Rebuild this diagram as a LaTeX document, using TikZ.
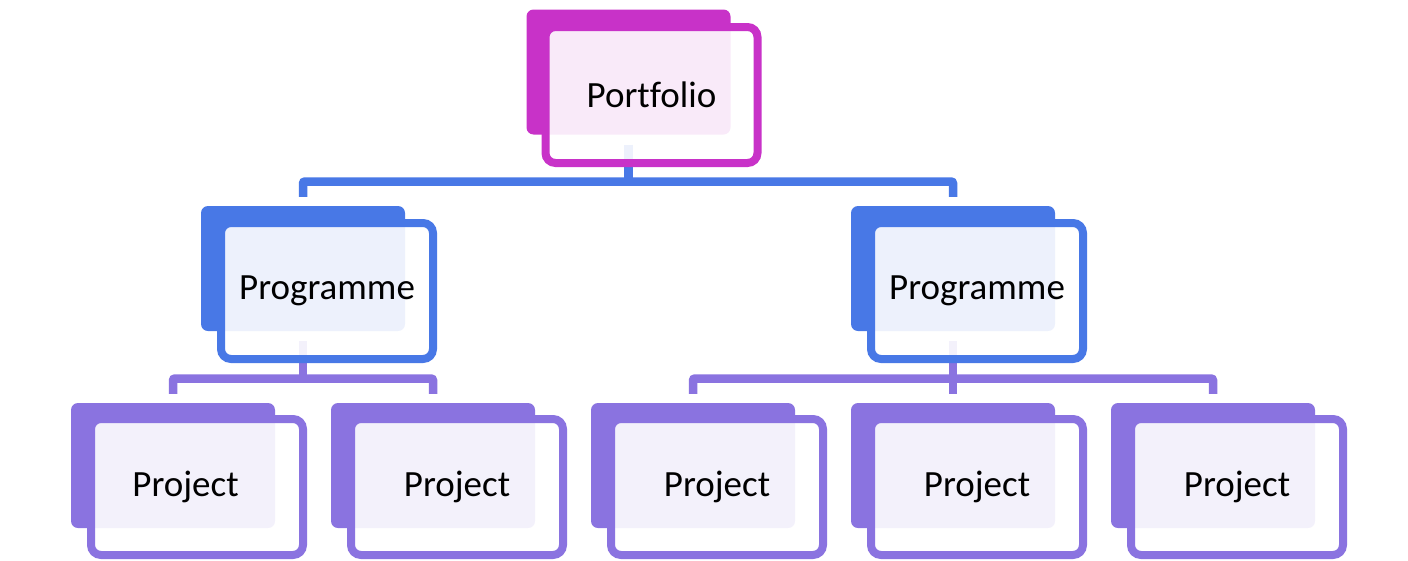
\documentclass[tikz,border=0pt]{standalone}
\usepackage{fontspec}
\setmainfont{Carlito}[Ligatures=NoCommon]
\usepackage{tikz}
\usetikzlibrary{calc}
\definecolor{pfmag}{HTML}{C832C8}
\definecolor{pgblue}{HTML}{4878E6}
\definecolor{pjpurple}{HTML}{8A73E0}
\tikzset{
  o px/.style={x=1pt, y=-1pt, font=\fontsize{37}{44}\selectfont},
  o back/.style={fill=#1, rounded corners=7pt, minimum width=204pt, minimum height=125pt, inner sep=0pt},
  o frame/.style={draw=#1, line width=8pt, fill=white, fill opacity=0.9, text opacity=1, rounded corners=10pt, minimum width=212pt, minimum height=136pt, inner sep=0pt},
  o link/.style={draw=#1, line width=8.5pt, rounded corners=2pt},
}

\begin{document}
\begin{tikzpicture}[o px]
\useasboundingbox (0,0) rectangle (1408,560);
% back plates
\node[o back=pfmag] (pf) at (628.5,72) {};
\node[o back=pgblue] (pgl) at (303,268.5) {};
\node[o back=pgblue] (pgr) at (953,268.5) {};
\node[o back=pjpurple] (pj1) at (173,465.5) {};
\node[o back=pjpurple] (pj2) at (433,465.5) {};
\node[o back=pjpurple] (pj3) at (693,465.5) {};
\node[o back=pjpurple] (pj4) at (953,465.5) {};
\node[o back=pjpurple] (pj5) at (1213,465.5) {};
% connectors
\coordinate (pfbar) at (628.5,181.5);
\coordinate (pglbar) at (303,378.5);
\coordinate (pgrbar) at (953,378.5);
\draw[o link=pgblue] ([yshift=-10pt]pf.south) -- (pfbar);
\draw[o link=pgblue] ([yshift=9pt]pgl.north) |- (pfbar) -| ([yshift=9pt]pgr.north);
\draw[o link=pjpurple] ([yshift=-10pt]pgl.south) -- (pglbar);
\draw[o link=pjpurple] ([yshift=9pt]pj1.north) |- (pglbar) -| ([yshift=9pt]pj2.north);
\draw[o link=pjpurple] ([yshift=-10pt]pgr.south) -- ([yshift=9pt]pj4.north);
\draw[o link=pjpurple] ([yshift=9pt]pj3.north) |- (pgrbar) -| ([yshift=9pt]pj5.north);
% frames with labels
\node[o frame=pfmag] (pff) at ([shift={(23,23)}]pf.center) {Portfolio};
\node[o frame=pgblue] (pglf) at ([shift={(24,22.5)}]pgl.center) {Programme};
\node[o frame=pgblue] (pgrf) at ([shift={(24,22.5)}]pgr.center) {Programme};
\node[o frame=pjpurple, label={[xshift=-11.5pt]center:Project}] (pj1f) at ([shift={(24,21.5)}]pj1.center) {};
\node[o frame=pjpurple] (pj2f) at ([shift={(24,21.5)}]pj2.center) {Project};
\node[o frame=pjpurple] (pj3f) at ([shift={(24,21.5)}]pj3.center) {Project};
\node[o frame=pjpurple] (pj4f) at ([shift={(24,21.5)}]pj4.center) {Project};
\node[o frame=pjpurple] (pj5f) at ([shift={(24,21.5)}]pj5.center) {Project};
\end{tikzpicture}
\end{document}
